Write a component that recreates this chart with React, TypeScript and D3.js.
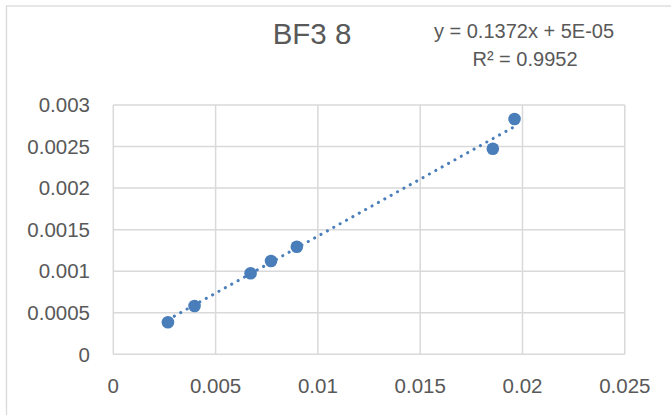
import React, { useRef, useEffect } from "react";
import * as d3 from "d3";

// values
const xValues = [0.00267, 0.00397, 0.00671, 0.00771, 0.00897, 0.01855, 0.01961];
const yValues = [0.000385, 0.000581, 0.000975, 0.001123, 0.001295, 0.002474, 0.002831];

const xTicks = [0, 0.005, 0.01, 0.015, 0.02, 0.025];
const yTicks = [0, 0.0005, 0.001, 0.0015, 0.002, 0.0025, 0.003];

// linear trendline shown on the chart
const slope = 0.1372;
const intercept = 0.00005;

const title = "BF3 8";
const equationLabel = "y = 0.1372x + 5E-05";
const r2Label = "R² = 0.9952";

const font = "'Liberation Sans', Arial, sans-serif";
const textColor = "#595959";
const gridColor = "#d9d9d9";
const markerColor = "#4a7ebb";

function App() {
  const canvas = useRef<SVGSVGElement>(null);

  function drawChart() {
    const svg = d3.select(canvas.current);
    svg.selectAll("*").remove();

    const x = d3.scaleLinear().domain([0, 0.025]).range([113.3, 624.8]);
    const y = d3.scaleLinear().domain([0, 0.003]).range([354.3, 105]);

    // chart frame (runs past the picture on right and bottom)
    svg
      .append("rect")
      .attr("x", 6.5)
      .attr("y", 6)
      .attr("width", 700)
      .attr("height", 450)
      .attr("fill", "white")
      .attr("stroke", gridColor)
      .attr("stroke-width", 1.3);

    const grid = svg.append("g").attr("stroke", gridColor).attr("stroke-width", 1.5);
    grid
      .selectAll("line.h")
      .data(yTicks)
      .enter()
      .append("line")
      .attr("x1", x(0))
      .attr("x2", x(0.025))
      .attr("y1", (d) => y(d))
      .attr("y2", (d) => y(d));
    grid
      .selectAll("line.v")
      .data(xTicks)
      .enter()
      .append("line")
      .attr("x1", (d) => x(d))
      .attr("x2", (d) => x(d))
      .attr("y1", y(0))
      .attr("y2", y(0.003));

    svg
      .append("g")
      .selectAll("text")
      .data(yTicks)
      .enter()
      .append("text")
      .text((d) => String(d))
      .attr("x", 90)
      .attr("y", (d) => y(d) + 7.2)
      .attr("text-anchor", "end")
      .attr("font-family", font)
      .attr("font-size", 20.5)
      .attr("fill", textColor);

    svg
      .append("g")
      .selectAll("text")
      .data(xTicks)
      .enter()
      .append("text")
      .text((d) => String(d))
      .attr("x", (d) => x(d))
      .attr("y", 392.7)
      .attr("text-anchor", "middle")
      .attr("font-family", font)
      .attr("font-size", 20.5)
      .attr("fill", textColor);

    // trendline from first to last x
    const [xMin, xMax] = d3.extent(xValues) as [number, number];
    svg
      .append("line")
      .attr("x1", x(xMin))
      .attr("y1", y(slope * xMin + intercept))
      .attr("x2", x(xMax))
      .attr("y2", y(slope * xMax + intercept))
      .attr("stroke", markerColor)
      .attr("stroke-width", 3)
      .attr("stroke-linecap", "round")
      .attr("stroke-dasharray", "0.1 7.2");

    svg
      .append("g")
      .selectAll("circle")
      .data(xValues)
      .enter()
      .append("circle")
      .attr("cx", (d) => x(d))
      .attr("cy", (d, i) => y(yValues[i]))
      .attr("r", 6.3)
      .attr("fill", markerColor);

    svg
      .append("text")
      .text(title)
      .attr("x", 312)
      .attr("y", 44.3)
      .attr("text-anchor", "middle")
      .attr("font-family", font)
      .attr("font-size", 29.5)
      .attr("fill", textColor);

    svg
      .append("text")
      .text(equationLabel)
      .attr("x", 524)
      .attr("y", 38.3)
      .attr("text-anchor", "middle")
      .attr("font-family", font)
      .attr("font-size", 20)
      .attr("fill", textColor);

    svg
      .append("text")
      .text(r2Label)
      .attr("x", 525)
      .attr("y", 66)
      .attr("text-anchor", "middle")
      .attr("font-family", font)
      .attr("font-size", 20)
      .attr("fill", textColor);
  }

  useEffect(() => {
    drawChart();
  }, []);

  return (
    <>
      <style>{"body{margin:0}"}</style>
      <svg ref={canvas} width={671} height={415} style={{ display: "block" }}></svg>
    </>
  );
}

export default App;
